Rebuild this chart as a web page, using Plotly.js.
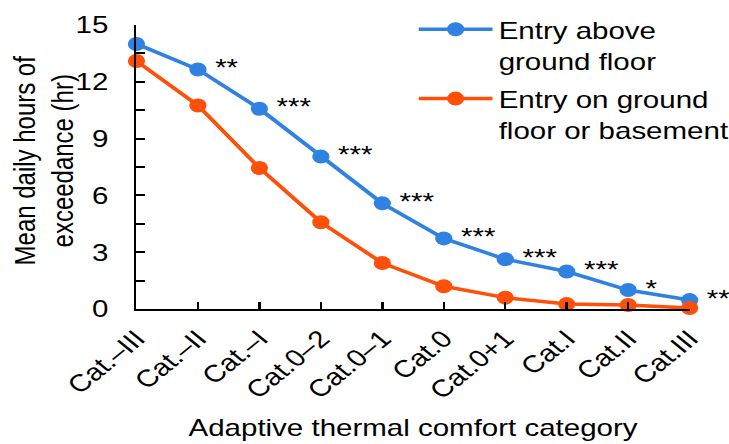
<!DOCTYPE html>
<html>
<head>
<meta charset="utf-8">
<script src="https://cdn.plot.ly/plotly-3.0.1.min.js"></script>
<style>
html,body{margin:0;padding:0;background:#fff;overflow:hidden}
#wrap{width:729px;height:444px;overflow:hidden}
#chart{width:593px;height:444px;transform:scale(1.2293,1);transform-origin:0 0}
</style>
</head>
<body>
<div id="wrap"><div id="chart"></div></div>
<script>
const categories = ["Cat.–III","Cat.–II","Cat.–I","Cat.0–2","Cat.0–1","Cat.0","Cat.0+1","Cat.I","Cat.II","Cat.III"];
const aboveGround = [14.0, 12.65, 10.58, 8.05, 5.58, 3.73, 2.63, 1.98, 1.0, 0.47];
const groundOrBasement = [13.1, 10.75, 7.45, 4.58, 2.43, 1.2, 0.6, 0.26, 0.21, 0.05];
const significance = ["", "**", "***", "***", "***", "***", "***", "***", "*", "**"];
const seriesNames = ["Entry above<br>ground floor", "Entry on ground<br>floor or basement"];
const xTitle = "Adaptive thermal comfort category";
const yTitle = "Mean daily hours of<br>exceedance (hr)";

const FONT = "Arial, 'Liberation Sans', sans-serif";
const blue = "#2F81E2", orange = "#FF500A";

const traces = [
  {x: categories, y: aboveGround, name: seriesNames[0], legendgroup: "a", type: "scatter", mode: "lines+markers",
   line: {color: blue, width: 3.5}, marker: {color: blue, size: 14}, cliponaxis: false},
  {x: categories, y: groundOrBasement, name: seriesNames[1], legendgroup: "b", type: "scatter", mode: "lines+markers",
   line: {color: orange, width: 3.5}, marker: {color: orange, size: 14}, cliponaxis: false}
];

const annotations = categories.map((c, i) => ({
  x: c, y: aboveGround[i], xref: "x", yref: "y", text: significance[i], showarrow: false,
  xanchor: "left", yanchor: "middle", xshift: 12, yshift: 2,
  font: {family: FONT, size: 24, color: "#000"}
})).filter(a => a.text !== "");

annotations.push({
  x: 0, y: 0.5, xref: "paper", yref: "paper", text: yTitle, showarrow: false, textangle: -90,
  xanchor: "center", yanchor: "middle", xshift: -75.5, yshift: 6,
  font: {family: FONT, size: 24, color: "#000"}
});

const layout = {
  width: 593, height: 444,
  margin: {l: 110.6, r: 31.7, t: 25, b: 135, autoexpand: false},
  paper_bgcolor: "#fff", plot_bgcolor: "#fff",
  font: {family: FONT, size: 24, color: "#000"},
  showlegend: true,
  legend: {xref: "container", yref: "container", x: 0.566, y: 0.984, xanchor: "left", yanchor: "top",
           bgcolor: "rgba(0,0,0,0)", valign: "top",
           font: {family: FONT, size: 24, color: "#000"}, tracegroupgap: 4, itemwidth: 60, traceorder: "grouped"},
  xaxis: {type: "category", range: [0, 9], showline: true, linecolor: "#000", linewidth: 2,
          ticks: "inside", ticklen: 7, tickwidth: 2, tickcolor: "#000", tickangle: -45, ticklabelstandoff: 4,
          showgrid: false, zeroline: false, automargin: false,
          title: {text: xTitle, font: {family: FONT, size: 24}, standoff: 16},
          tickfont: {family: FONT, size: 24}},
  yaxis: {range: [0, 15], dtick: 3, tick0: 0, showline: true, linecolor: "#000", linewidth: 2,
          ticks: "inside", ticklen: 7, tickwidth: 2, tickcolor: "#000", ticklabelstandoff: 16,
          minor: {dtick: 1.5, tick0: 0, ticks: "inside", ticklen: 7, tickwidth: 2, tickcolor: "#000", showgrid: false},
          showgrid: false, zeroline: false, automargin: false,
          tickfont: {family: FONT, size: 24}},
  annotations: annotations
};

Plotly.newPlot("chart", traces, layout, {staticPlot: true, displayModeBar: false});
</script>
</body>
</html>
